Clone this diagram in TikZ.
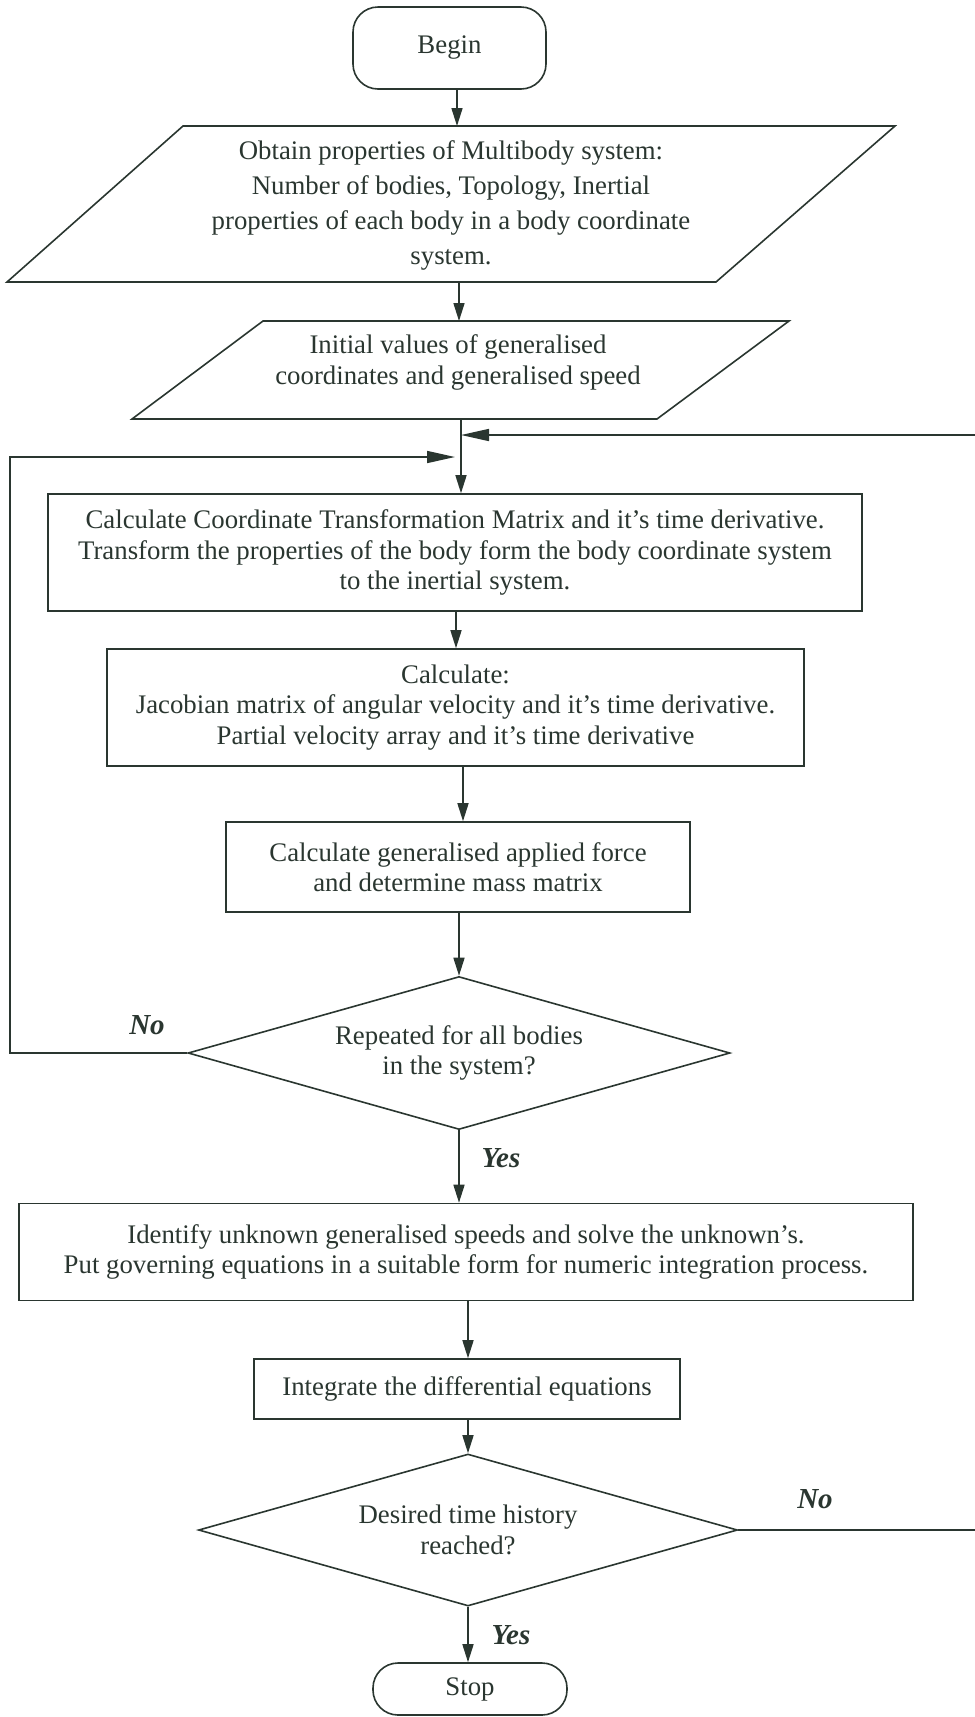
\documentclass[tikz,border=0pt]{standalone}
\usepackage{fontspec}
\setmainfont{Liberation Serif}
\usetikzlibrary{shapes.geometric,arrows.meta}
\definecolor{ink}{RGB}{42,54,48}
\begin{document}
\begin{tikzpicture}[x=1pt,y=-1pt,
  color=ink, line width=1.6pt,
  every node/.style={font=\fontsize{26.8}{30.5}\selectfont},
  box/.style={draw, rectangle, align=center, inner sep=0pt},
  term/.style={draw, rectangle, rounded corners=25pt, inner sep=0pt},
  dec/.style={draw, diamond, aspect=3.54, inner sep=0pt, align=center},
  txt/.style={align=center, inner sep=0pt},
  arr/.style={-{Triangle[length=18pt,width=11pt]}},
  harr/.style={-{Triangle[length=28pt,width=12pt]}},
  lbl/.style={font=\fontsize{29}{30}\selectfont\bfseries\itshape}
]
\useasboundingbox (0,0) rectangle (975,1717);

% Begin
\node[term, minimum width=193pt, minimum height=82pt] (begin) at (449.5,48) {Begin};

% Parallelogram 1
\coordinate (p1tl) at (183,126);
\coordinate (p1tr) at (895,126);
\coordinate (p1br) at (716,282);
\coordinate (p1bl) at (7,282);
\draw (p1tl) -- (p1tr) -- (p1br) -- (p1bl) -- cycle;
\node[txt, font=\fontsize{26.8}{35}\selectfont] (p1) at (451,205.5)
  {Obtain properties of Multibody system:\\Number of bodies, Topology, Inertial\\properties of each body in a body coordinate\\system.};
\coordinate (p1top) at (457,126);
\coordinate (p1bot) at (459,282);

% Parallelogram 2
\coordinate (p2tl) at (263,321);
\coordinate (p2tr) at (789,321);
\coordinate (p2br) at (657,419);
\coordinate (p2bl) at (132,419);
\draw (p2tl) -- (p2tr) -- (p2br) -- (p2bl) -- cycle;
\node[txt] (p2) at (458,362.5)
  {Initial values of generalised\\coordinates and generalised speed};
\coordinate (p2top) at (459,321);
\coordinate (p2bot) at (461,419);

% Boxes
\node[box, minimum width=814pt, minimum height=117pt] (b1) at (455,552.5)
  {Calculate Coordinate Transformation Matrix and it’s time derivative.\\Transform the properties of the body form the body coordinate system\\to the inertial system.};
\node[box, minimum width=697pt, minimum height=117pt] (b2) at (455.5,707.5)
  {Calculate:\\Jacobian matrix of angular velocity and it’s time derivative.\\Partial velocity array and it’s time derivative};
\node[box, minimum width=464pt, minimum height=90pt] (b3) at (458,867)
  {Calculate generalised applied force\\and determine mass matrix};
\node[dec, minimum width=542pt, minimum height=153pt] (d1) at (459,1053)
  {Repeated for all bodies\\in the system?};
\node[box, minimum width=894pt, minimum height=97pt] (b4) at (466,1252)
  {Identify unknown generalised speeds and solve the unknown’s.\\Put governing equations in a suitable form for numeric integration process.};
\node[box, minimum width=426pt, minimum height=60pt] (b5) at (467,1389)
  {Integrate the differential equations};
\node[dec, minimum width=539pt, minimum height=152pt] (d2) at (468,1530)
  {Desired time history\\reached?};
\node[term, minimum width=194pt, minimum height=52pt] (stop) at (470,1689) {Stop};

% Labels
\node[lbl] (no1) at (147,1025) {No};
\node[lbl] (yes1) at (501,1158) {Yes};
\node[lbl] (no2) at (815,1499) {No};
\node[lbl] (yes2) at (511,1635) {Yes};

% Junction points of the loops
\coordinate (jR) at (461,435);
\coordinate (jL) at (455,457);

% Main flow
\draw[arr] (begin.south -| p1top) -- (p1top);
\draw[arr] (p1bot) -- (p2top);
\draw[arr] (p2bot) -- (b1.north -| p2bot);
\draw[arr] (b1.south -| 456,0) -- (b2.north -| 456,0);
\draw[arr] (b2.south -| 463,0) -- (b3.north -| 463,0);
\draw[arr] (b3.south -| d1.north) -- (d1.north);
\draw[arr] (d1.south) -- (b4.north -| d1.south);
\draw[arr] (b4.south -| 468,0) -- (b5.north -| 468,0);
\draw[arr] (b5.south -| d2.north) -- (d2.north);
\draw[arr] (d2.south) -- (stop.north -| d2.south);

% Feedback loops
\draw[harr] (d1.west) -| (10,457) -- (jL);
\draw[harr] (d2.east) -- (976,1530) |- (jR);
\end{tikzpicture}
\end{document}
